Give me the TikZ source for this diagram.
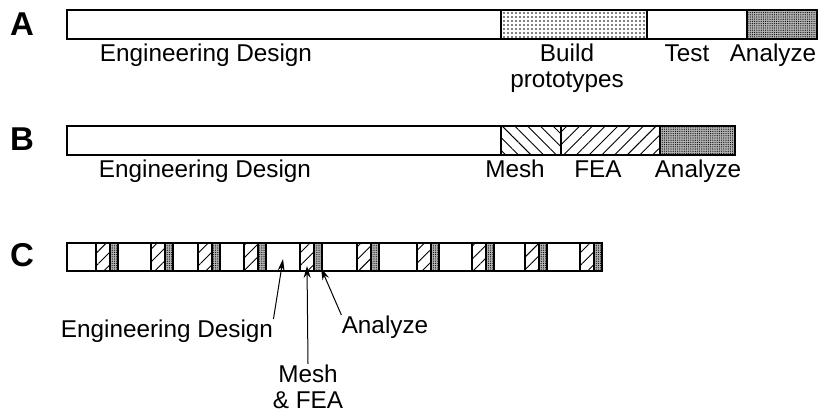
\documentclass[tikz,border=0pt]{standalone}
\usepackage{fontspec}
\setmainfont{Liberation Sans}
\usetikzlibrary{arrows.meta,patterns.meta,positioning}

\begin{document}
\begin{tikzpicture}[x=0.5pt,y=-0.5pt,
  bar/.style={draw,line width=0.7pt},
  lbl/.style={anchor=base,font=\fontsize{12.15}{13}\selectfont,inner sep=0pt,align=center},
  tag/.style={anchor=base,font=\fontsize{16.5}{18}\selectfont\bfseries,inner sep=0pt},
  proto/.style={bar,pattern={Dots[distance=2pt,radius=0.4pt]}},
  anl/.style={bar,fill=gray!60,postaction={pattern={Dots[distance=1.1pt,radius=0.3pt]}}},
  mesh/.style={bar,pattern={Lines[angle=-45,distance=4.5pt,line width=0.45pt]}},
  fea/.style={bar,pattern={Lines[angle=45,distance=4.5pt,line width=0.45pt]}},
  arrow/.style={-{Stealth[length=6pt,width=3.5pt]},line width=0.5pt},
]
\useasboundingbox (0,0) rectangle (818,413);

% Row A
\node[tag] (tA) at (22,35) {A};
\draw[bar]   (67,10) rectangle (501,39);
\draw[proto] (501,10) rectangle (647,39);
\draw[bar]   (647,10) rectangle (747,39);
\draw[anl]   (747,10) rectangle (817,39);
\node[lbl] (edA) at (206,61) {Engineering Design};
\node[lbl] (bp)  at (567,87) {Build\\prototypes};
\node[lbl] (te)  at (687,61) {Test};
\node[lbl] (anA) at (773,61) {Analyze};

% Row B
\node[tag] (tB) at (22,150) {B};
\draw[bar]  (67,126) rectangle (501,155);
\draw[mesh] (501,126) rectangle (561,155);
\draw[fea]  (561,126) rectangle (660,155);
\draw[anl]  (660,126) rectangle (735,155);
\node[lbl] (edB) at (205,177) {Engineering Design};
\node[lbl] (me)  at (515,177) {Mesh};
\node[lbl] (fe)  at (598,177) {FEA};
\node[lbl] (anB) at (698,177) {Analyze};

% Row C
\node[tag] (tC) at (22,266) {C};
\draw[bar] (67,243) rectangle (602,271);
\foreach \h in {96,151,198,244,300,357,417,472,525,580} {
  \draw[fea] (\h,243) rectangle ++(14,28);
  \draw[anl] (\h+14,243) rectangle ++(8,28);
}
\coordinate (edtip) at (283,259);
\coordinate (mftip) at (307,266);
\coordinate (antip) at (321,268);
\node[lbl] (edC) at (167,337) {Engineering Design};
\node[lbl] (mf)  at (308,408) {Mesh\\\& FEA};
\node[lbl] (anC) at (385,333) {Analyze};
\draw[arrow] (edC.north east) -- (edtip);
\draw[arrow] (mf.north) -- (mftip);
\draw[arrow] (anC.north west) -- (antip);
\end{tikzpicture}
\end{document}
